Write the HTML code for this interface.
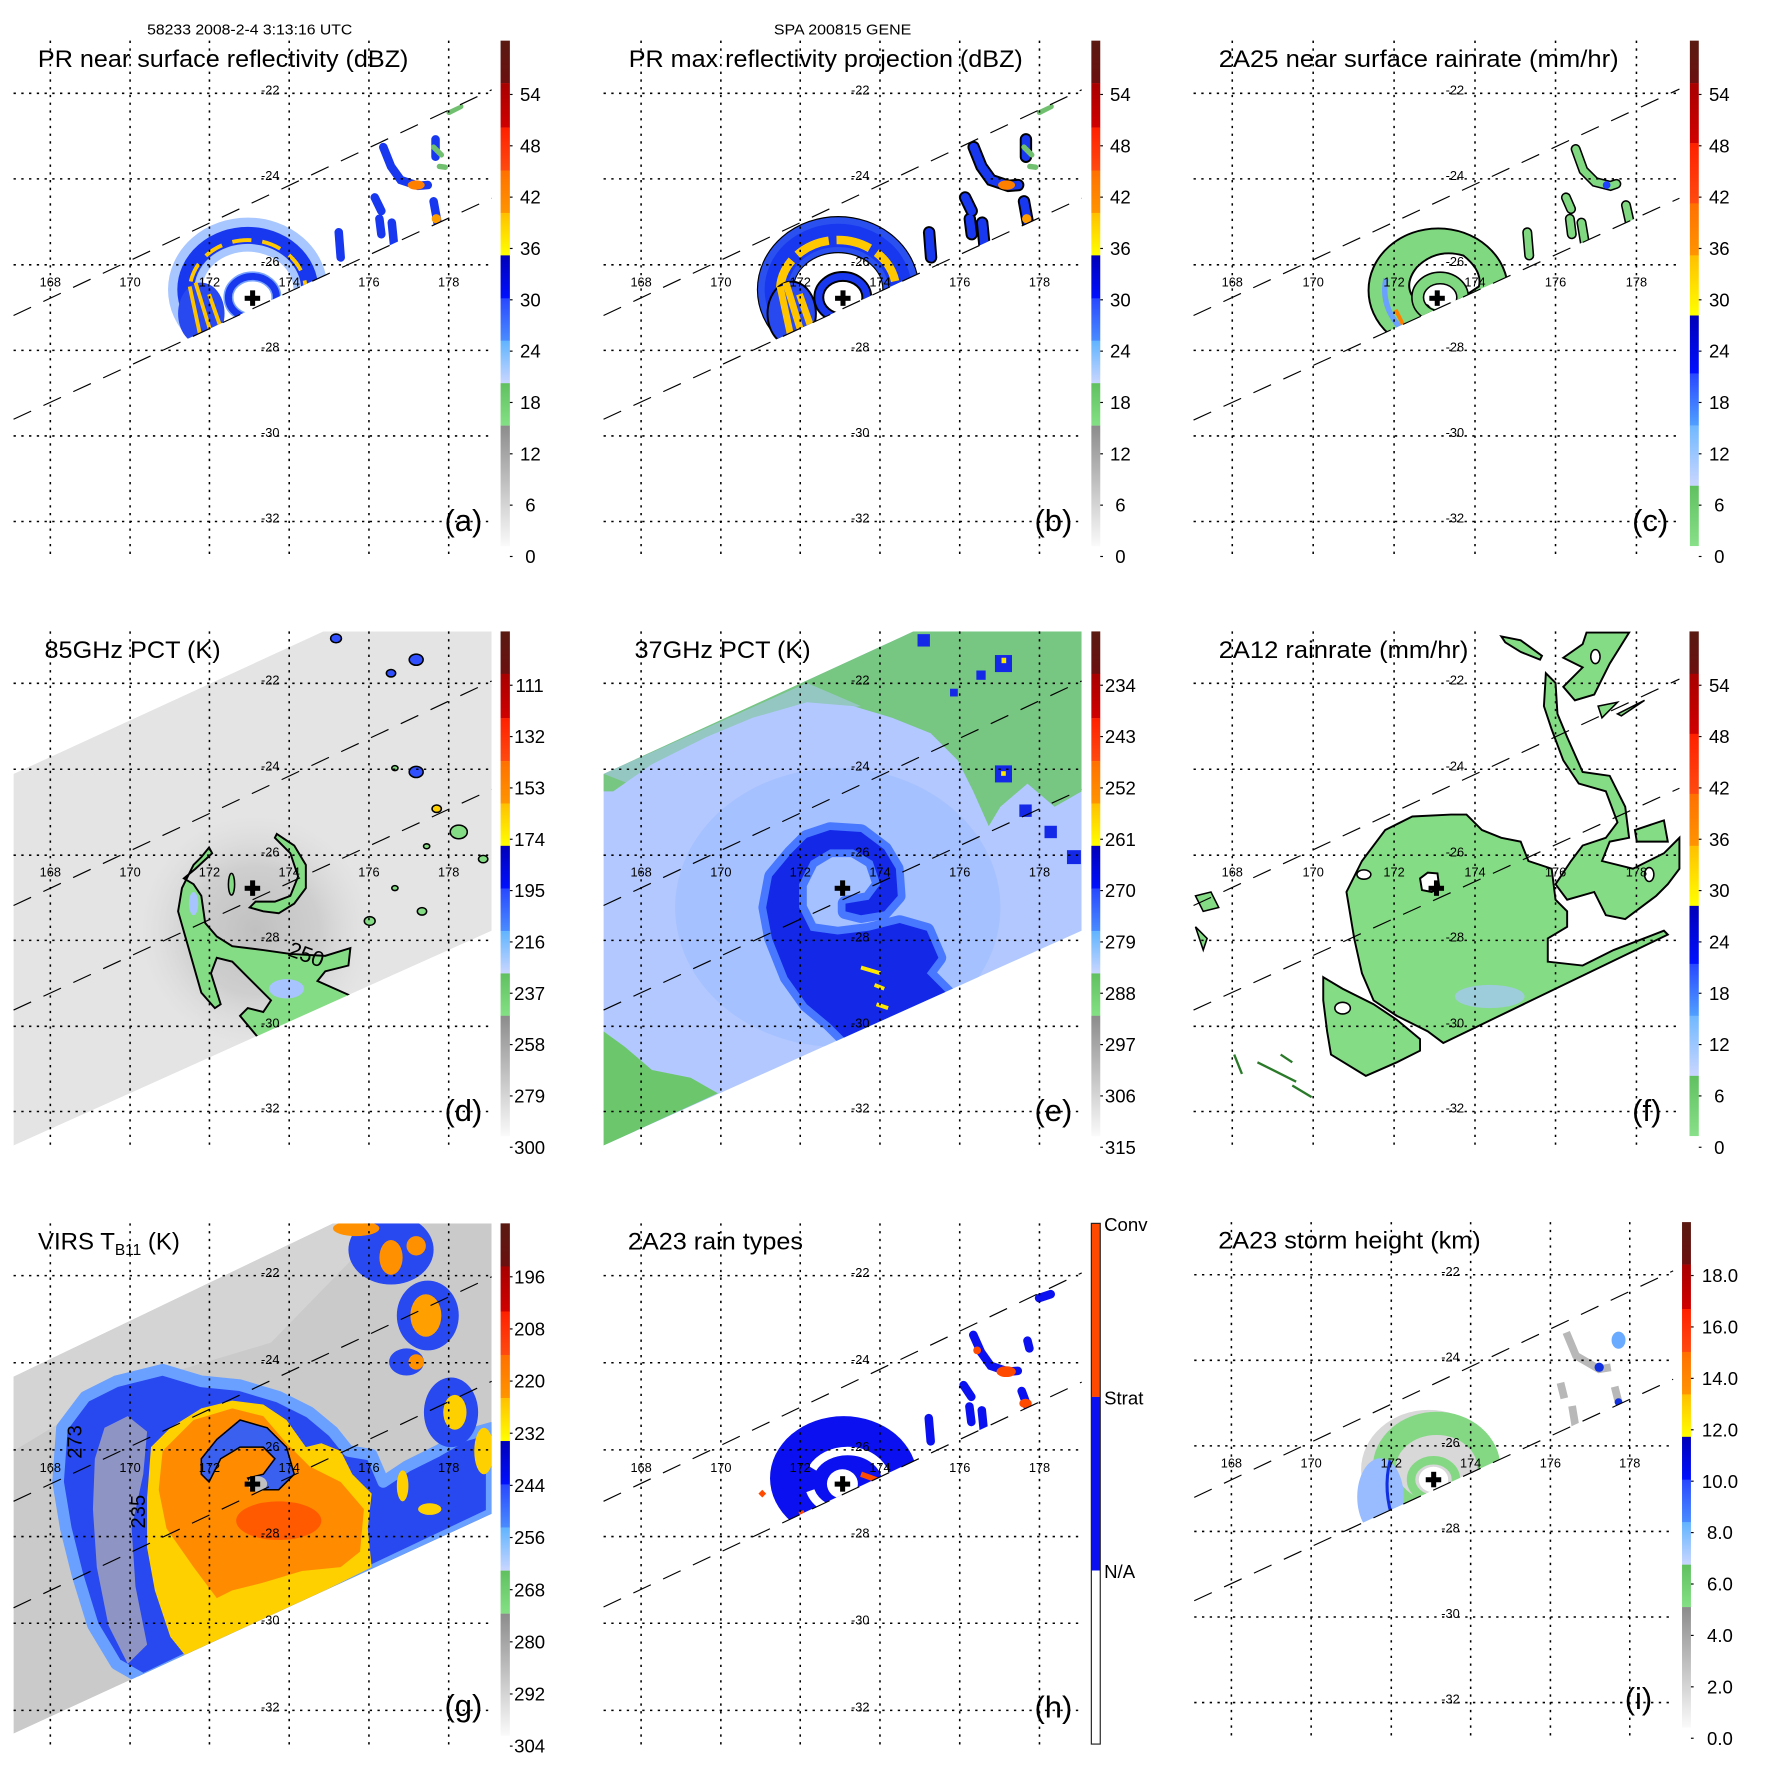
<!DOCTYPE html>
<html><head><meta charset="utf-8"><style>
html,body{margin:0;padding:0;background:#fff;}
svg text{font-family:"Liberation Sans",sans-serif;}
</style></head><body>
<svg id="fig" xmlns="http://www.w3.org/2000/svg" width="1771" height="1771" viewBox="0 0 1771 1771" style="display:block;background:#fff"></svg>
<script>
// ---- data arrays ----
const lonTicks = [168,170,172,174,176,178];
const latTicks = [-22,-24,-26,-28,-30,-32];
const cbLabelsDbz = ['54','48','42','36','30','24','18','12','6','0'];
const cbLabelsRain = ['54','48','42','36','30','24','18','12','6','0'];
const cbLabels85 = ['111','132','153','174','195','216','237','258','279','300'];
const cbLabels37 = ['234','243','252','261','270','279','288','297','306','315'];
const cbLabelsVirs = ['196','208','220','232','244','256','268','280','292','304'];
const cbLabelsHeight = ['18.0','16.0','14.0','12.0','10.0','8.0','6.0','4.0','2.0','0.0'];
const cbLabelsType = ['Conv','Strat','N/A'];

const SC = 1/2.583;
const prSegs = [[0,.084,'#5a1a12','#6a1010'],[.084,.172,'#a80000','#d00000'],[.172,.257,'#ff2000','#ff4a10'],[.257,.341,'#ff7000','#ff9400'],[.341,.425,'#ffc000','#ffff00'],[.425,.51,'#0000b8','#0010ff'],[.51,.594,'#2848ff','#4a8cff'],[.594,.678,'#60b4ff','#cad6ff'],[.678,.762,'#60c060','#84e084'],[.762,1,'#8c8c8c','#fafafa']];
const rainSegs = [[0,.084,'#5a1a12','#6a1010'],[.084,.203,'#a80000','#d00000'],[.203,.322,'#ff2000','#ff4a10'],[.322,.425,'#ff7000','#ff9400'],[.425,.544,'#ffc000','#ffff00'],[.544,.659,'#0000b8','#0010ff'],[.659,.762,'#2848ff','#50a0ff'],[.762,.881,'#70b8ff','#cad6ff'],[.881,1,'#60c060','#88e088']];

const PRsw=[[35,815],[1270,232],[1270,512],[35,1083]];
const panels = [
 {id:'a',ox:0,oy:0,gx:[130,336,541,747,953,1159],gy:[241,462,684,905,1126,1347],px:[35,1270],py:[105,1435],cb:[1293,1317,105,1410],cbx:1370,cby:244,cbd:132.6,labs:cbLabelsDbz,segs:prSegs,title:'PR near surface reflectivity (dBZ)',tx:98,tw:957,ty:173,latx:698,lony:740,let:'(a)',lx:1148,ly:1372,cross:[652,770],sw:PRsw,kind:'a',head:'58233 2008-2-4 3:13:16 UTC',hx:380,hw:530},
 {id:'b',ox:590,oy:0,gx:[132,338,543,749,955,1161],gy:[241,462,684,905,1126,1347],px:[35,1270],py:[105,1435],cb:[1295,1318,105,1410],cbx:1370,cby:244,cbd:132.6,labs:cbLabelsDbz,segs:prSegs,title:'PR max reflectivity projection (dBZ)',tx:100,tw:1018,ty:173,latx:698,lony:740,let:'(b)',lx:1148,ly:1372,cross:[653,770],sw:PRsw,kind:'b',head:'SPA 200815 GENE',hx:475,hw:355},
 {id:'c',ox:1180,oy:0,gx:[135,344,553,762,970,1179],gy:[241,462,684,905,1126,1347],px:[35,1290],py:[105,1435],cb:[1317,1340,105,1410],cbx:1393,cby:244,cbd:132.6,labs:cbLabelsRain,segs:rainSegs,title:'2A25 near surface rainrate (mm/hr)',tx:100,tw:1033,ty:173,latx:710,lony:740,let:'(c)',lx:1168,ly:1372,cross:[664,770],sw:[[35,815],[1290,230],[1290,512],[35,1085]],kind:'c'},
 {id:'d',ox:0,oy:590,gx:[130,336,541,747,953,1159],gy:[241,463,685,905,1127,1347],px:[35,1270],py:[107,1435],cb:[1293,1317,107,1410],cbx:1368,cby:246,cbd:132.6,labs:cbLabels85,segs:prSegs,title:'85GHz PCT (K)',tx:115,tw:455,ty:175,latx:698,lony:740,let:'(d)',lx:1148,ly:1372,cross:[652,770],sw:[[35,815],[1270,235],[1270,515],[35,1085]],kind:'d'},
 {id:'e',ox:590,oy:590,gx:[132,338,543,749,955,1161],gy:[241,463,685,905,1127,1347],px:[35,1270],py:[107,1435],cb:[1295,1318,107,1410],cbx:1370,cby:246,cbd:132.6,labs:cbLabels37,segs:prSegs,title:'37GHz PCT (K)',tx:115,tw:455,ty:175,latx:698,lony:740,let:'(e)',lx:1148,ly:1372,cross:[652,770],sw:[[35,815],[1270,235],[1270,515],[35,1085]],kind:'e'},
 {id:'f',ox:1180,oy:590,gx:[135,344,553,762,970,1179],gy:[241,463,685,905,1127,1347],px:[35,1290],py:[107,1435],cb:[1316,1340,107,1410],cbx:1393,cby:246,cbd:132.6,labs:cbLabelsRain,segs:rainSegs,title:'2A12 rainrate (mm/hr)',tx:100,tw:645,ty:175,latx:710,lony:740,let:'(f)',lx:1168,ly:1372,cross:[662,770],sw:[[35,815],[1290,230],[1290,512],[35,1085]],kind:'f'},
 {id:'g',ox:0,oy:1180,gx:[130,336,541,747,953,1159],gy:[247,472,697,921,1145,1370],px:[35,1270],py:[112,1460],cb:[1293,1317,112,1435],cbx:1368,cby:250,cbd:134.7,labs:cbLabelsVirs,segs:prSegs,title:null,tx:98,ty:180,latx:698,lony:754,let:'(g)',lx:1148,ly:1385,cross:[652,785],sw:[[35,830],[1270,250],[1270,520],[35,1105]],kind:'g'},
 {id:'h',ox:590,oy:1180,gx:[132,338,543,749,955,1161],gy:[247,472,697,921,1145,1370],px:[35,1270],py:[112,1460],cb:[1295,1318,112,1457],cbx:null,labs:cbLabelsType,segs:null,title:'2A23 rain types',tx:98,tw:452,ty:180,latx:698,lony:754,let:'(h)',lx:1148,ly:1388,cross:[652,785],sw:[[35,830],[1270,240],[1270,522],[35,1103]],kind:'h'},
 {id:'i',ox:1171,oy:1171,gx:[156,362,569,774,980,1185],gy:[268,489,710,931,1152,1373],px:[60,1297],py:[132,1460],cb:[1320,1343,132,1437],cbx:1418,cby:270,cbd:132.8,labs:cbLabelsHeight,segs:prSegs,title:'2A23 storm height (km)',tx:122,tw:678,ty:200,latx:722,lony:766,let:'(i)',lx:1172,ly:1390,cross:[678,797],sw:[[60,843],[1297,258],[1297,538],[60,1110]],kind:'i'}
];

function pts(a){return a.map(p=>p.join(',')).join(' ');}
let defs='';
function grad(id,c0,c1){defs+=`<linearGradient id="${id}" x1="0" y1="0" x2="0" y2="1"><stop offset="0" stop-color="${c0}"/><stop offset="1" stop-color="${c1}"/></linearGradient>`;return `url(#${id})`;}

function prStorm(k){
  let s='';
  if(k==='a'||k==='b'){
    const ol = k==='b';
    if(ol) s+=`<ellipse cx="640" cy="748" rx="162" ry="142" fill="none" stroke="#000" stroke-width="96"/>`;
    s+=`<ellipse cx="640" cy="748" rx="162" ry="142" fill="none" stroke="${ol?'#2a50f0':'#a8c6ff'}" stroke-width="${ol?90:88}"/>`;
    s+=`<ellipse cx="640" cy="748" rx="160" ry="140" fill="none" stroke="#1838f0" stroke-width="${ol?60:44}"/>`;
    s+=`<ellipse cx="640" cy="752" rx="150" ry="132" fill="none" stroke="#ffc800" stroke-width="${ol?22:10}" stroke-dasharray="${ol?'90 20':'50 28'}"/>`;
    if(ol) s+=`<ellipse cx="520" cy="810" rx="65" ry="85" fill="#000"/>`;
    s+=`<ellipse cx="520" cy="810" rx="60" ry="80" fill="#2848f0"/>`;
    s+=`<path d="M490 740 L520 880 M540 760 L575 860 M505 730 L548 870" stroke="#ffc400" stroke-width="${ol?18:10}" fill="none"/>`;
    s+=`<ellipse cx="652" cy="768" rx="62" ry="54" fill="none" stroke="${ol?'#000':'#7aa4ff'}" stroke-width="${ol?28:26}"/>`;
    s+=`<ellipse cx="652" cy="768" rx="62" ry="54" fill="none" stroke="#1838f0" stroke-width="18"/>`;
    s+=`<ellipse cx="695" cy="800" rx="28" ry="8" fill="#ff9000"/>`;
    s+=`<g fill="none" stroke-linecap="round">`;
    if(ol) s+=`<path d="M990 380 L1010 430 L1035 465 L1080 480 L1105 478 M1120 520 L1130 575 M968 510 L985 545 M980 565 L985 605 M1012 575 L1018 635 M875 600 L880 665 M1125 360 L1125 405" stroke="#000" stroke-width="32"/>`;
    s+=`<path d="M990 380 L1010 430 L1035 465 L1080 480 L1105 478 M1120 520 L1130 575 M968 510 L985 545 M980 565 L985 605 M1012 575 L1018 635 M875 600 L880 665 M1125 360 L1125 405" stroke="#1838f0" stroke-width="22"/>`;
    s+=`<ellipse cx="1075" cy="478" rx="22" ry="12" fill="#ff8000"/><ellipse cx="1127" cy="565" rx="12" ry="12" fill="#ff9c00"/>`;
    s+=`<path d="M1135 430 L1150 432 M1120 380 L1140 400 M1160 290 L1190 275" stroke="#70c070" stroke-width="14"/></g>`;
  } else if(k==='c'){
    s+=`<ellipse cx="655" cy="750" rx="180" ry="160" fill="#80d880" stroke="#000" stroke-width="5"/>`;
    s+=`<path d="M600 690 Q650 640 720 660 Q770 700 760 740 L700 780 Q640 800 600 780 Q560 740 600 690Z" fill="#fff" stroke="#000" stroke-width="5"/>`;
    s+=`<ellipse cx="660" cy="768" rx="58" ry="50" fill="none" stroke="#000" stroke-width="34"/>`;
    s+=`<ellipse cx="660" cy="768" rx="58" ry="50" fill="none" stroke="#80d880" stroke-width="26"/>`;
    s+=`<ellipse cx="660" cy="768" rx="38" ry="32" fill="#fff"/>`;
    s+=`<path d="M520 720 Q505 790 560 850" stroke="#6aa0ff" stroke-width="14" fill="none"/><path d="M545 800 L565 840" stroke="#ff8000" stroke-width="10"/>`;
    s+=`<path d="M1010 385 L1030 440 L1060 470 L1100 480 L1115 475 M1140 530 L1150 575 M985 510 L998 540 M995 565 L1000 605 M1025 575 L1035 635 M885 600 L890 660" stroke="#000" stroke-width="26" fill="none" stroke-linecap="round"/>`;
    s+=`<path d="M1010 385 L1030 440 L1060 470 L1100 480 L1115 475 M1140 530 L1150 575 M985 510 L998 540 M995 565 L1000 605 M1025 575 L1035 635 M885 600 L890 660" stroke="#80d880" stroke-width="18" fill="none" stroke-linecap="round"/>`;
    s+=`<circle cx="1090" cy="478" r="10" fill="#2040ff"/>`;
  } else if(k==='h'){
    s+=`<ellipse cx="655" cy="755" rx="190" ry="160" fill="#0a10f0"/>`;
    s+=`<ellipse cx="665" cy="765" rx="100" ry="80" fill="none" stroke="#fff" stroke-width="22" stroke-dasharray="260 60"/>`;
    s+=`<ellipse cx="652" cy="770" rx="40" ry="38" fill="#fff"/>`;
    s+=`<path d="M545 840 L555 870 M700 745 L770 770 M440 790 L450 800" stroke="#ff4a00" stroke-width="14"/>`;
    s+=`<path d="M990 385 L1010 430 L1035 465 L1080 480 L1105 478 M1115 530 L1130 570 M965 515 L985 545 M980 570 L985 610 M1012 580 L1018 640 M875 600 L880 660 M1130 400 L1135 420 M1160 290 L1190 280" stroke="#0a10f0" stroke-width="22" fill="none" stroke-linecap="round"/>`;
    s+=`<ellipse cx="1075" cy="480" rx="25" ry="14" fill="#ff4a00"/><ellipse cx="1125" cy="562" rx="16" ry="12" fill="#ff4a00"/><circle cx="1000" cy="425" r="10" fill="#ff4a00"/>`;
  } else if(k==='i'){
    s+=`<ellipse cx="640" cy="745" rx="175" ry="155" fill="#c8c8c8" opacity=".7"/>`;
    s+=`<ellipse cx="660" cy="740" rx="135" ry="115" fill="none" stroke="#84d884" stroke-width="60"/>`;
    s+=`<ellipse cx="515" cy="815" rx="60" ry="100" fill="#98bcff"/><path d="M540 720 Q520 800 550 880" stroke="#1030e0" stroke-width="8" fill="none"/>`;
    s+=`<ellipse cx="652" cy="770" rx="58" ry="50" fill="none" stroke="#84d884" stroke-width="22"/><ellipse cx="652" cy="770" rx="38" ry="33" fill="#fff"/>`;
    s+=`<path d="M995 390 L1020 450 L1080 485 L1110 480 M1120 530 L1130 570 M980 520 L990 560 M1010 580 L1020 640" stroke="#b8b8b8" stroke-width="20" fill="none"/>`;
    s+=`<ellipse cx="1130" cy="410" rx="18" ry="22" fill="#6aaaff"/><circle cx="1080" cy="480" r="12" fill="#1030e0"/><circle cx="1130" cy="570" r="10" fill="#1030e0"/>`;
  }
  return s;
}

function imagery(p){
  let s='';
  const cid='clip-'+p.id;
  defs+=`<clipPath id="${cid}"><polygon points="${pts(p.sw)}"/></clipPath>`;
  const dx=p.cross[0]-652, dy=p.cross[1]-770;
  if(['a','b','c','h','i'].includes(p.kind)){
    s+=`<g clip-path="url(#${cid})"><g transform="translate(${dx},${dy})">${prStorm(p.kind)}</g></g>`;
  } else if(p.kind==='d'){
    const sw=[[35,475],[835,107],[1270,107],[1270,880],[35,1435]];
    defs+=`<clipPath id="tmi-d"><polygon points="${pts(sw)}"/></clipPath><radialGradient id="halo-d"><stop offset="0" stop-color="#a8a8a8" stop-opacity=".6"/><stop offset=".55" stop-color="#b4b4b4" stop-opacity=".45"/><stop offset="1" stop-color="#d0d0d0" stop-opacity="0"/></radialGradient>`;
    s+=`<g clip-path="url(#tmi-d)"><polygon points="${pts(sw)}" fill="#e4e4e4"/>`;
    s+=`<ellipse cx="660" cy="880" rx="300" ry="300" fill="url(#halo-d)"/>`;
    const band=[[520,690],[540,665],[548,680],[505,720],[475,745],[500,760],[520,790],[530,860],[560,895],[600,920],[680,930],[750,940],[840,945],[905,925],[900,970],[840,985],[820,1010],[910,1050],[860,1075],[790,1110],[750,1140],[700,1160],[670,1160],[620,1100],[640,1080],[680,1090],[700,1060],[640,1000],[600,960],[560,950],[545,990],[570,1070],[555,1080],[520,1040],[480,900],[460,830],[470,770],[500,710]];
    const hook=[[715,630],[760,660],[790,710],[790,770],[760,810],[720,835],[680,830],[645,820],[660,805],[710,805],[750,790],[770,740],[750,680],[710,640]];
    s+=`<polygon points="${pts(band)}" fill="#84dc84" stroke="#000" stroke-width="5"/>`;
    s+=`<polygon points="${pts(hook)}" fill="#84dc84" stroke="#000" stroke-width="5"/>`;
    s+=`<ellipse cx="740" cy="1030" rx="45" ry="25" fill="#a8c4ff"/><ellipse cx="500" cy="810" rx="12" ry="30" fill="#a8c4ff"/>`;
    s+=`<ellipse cx="598" cy="760" rx="8" ry="28" fill="#84dc84" stroke="#000" stroke-width="4"/>`;
    s+=`<text x="745" y="960" font-size="56" transform="rotate(20 790 940)">250</text>`;
    [[868,125,14,'#3050ff'],[1075,180,18,'#3050ff'],[1010,215,12,'#3050ff'],[1075,470,18,'#3050ff'],[1128,565,12,'#ffd000'],[1185,625,22,'#84dc84'],[1248,695,12,'#84dc84'],[1020,460,8,'#84dc84'],[1090,830,12,'#84dc84'],[955,855,14,'#84dc84'],[1020,770,8,'#84dc84'],[1102,662,8,'#84dc84']].forEach(c=>{
      s+=`<ellipse cx="${c[0]}" cy="${c[1]}" rx="${c[2]}" ry="${c[2]*0.8}" fill="${c[3]}" stroke="#000" stroke-width="4"/>`;});
    s+=`</g>`;
  } else if(p.kind==='e'){
    const sw=[[35,475],[835,107],[1270,107],[1270,880],[35,1435]];
    defs+=`<clipPath id="tmi-e"><polygon points="${pts(sw)}"/></clipPath>`;
    s+=`<g clip-path="url(#tmi-e)"><polygon points="${pts(sw)}" fill="#b2c8ff"/>`;
    s+=`<ellipse cx="640" cy="820" rx="420" ry="360" fill="#9cbcff" opacity=".6"/>`;
    const g1=[[35,475],[835,107],[1270,107],[1270,520],[1200,560],[1130,500],[1060,560],[1030,610],[990,520],[950,440],[880,370],[780,330],[680,300],[560,290],[420,330],[300,380],[160,450],[60,520],[35,520]];
    const g2=[[35,1140],[35,1435],[330,1300],[260,1260],[160,1240],[90,1180]];
    s+=`<polygon points="${pts(g1)}" fill="#6cc66c" opacity=".85"/>`;
    s+=`<polygon points="${pts([[35,475],[560,240],[700,300],[500,330],[300,400],[100,500]])}" fill="#b2c8ff" opacity=".5"/>`;
    s+=`<polygon points="${pts(g2)}" fill="#6cc66c"/>`;
    const blue=[[470,740],[520,680],[560,640],[620,620],[700,625],[760,670],[790,720],[795,790],[760,830],[700,840],[660,830],[660,810],[720,800],[750,760],[730,700],[680,670],[620,670],[570,700],[540,760],[540,820],[570,880],[640,890],[720,880],[800,860],[870,880],[900,950],[870,990],[930,1050],[770,1120],[670,1170],[620,1120],[560,1070],[510,1000],[470,900],[455,820]];
    s+=`<polygon points="${pts(blue)}" fill="#4878ff" stroke="#4878ff" stroke-width="40" stroke-linejoin="round"/>`;
    s+=`<polygon points="${pts(blue)}" fill="#1428e8"/>`;
    s+=`<path d="M700 975 L750 990 M735 1020 L760 1030 M740 1070 L770 1080" stroke="#ffe800" stroke-width="10"/>`;
    [[1068,475,22],[1125,570,16],[1190,625,16],[1250,690,18],[862,130,16],[1068,190,22],[1010,220,12],[940,265,10]].forEach(c=>{s+=`<rect x="${c[0]-c[2]}" y="${c[1]-c[2]}" width="${2*c[2]}" height="${2*c[2]}" fill="#1428e8"/>`;});
    s+=`<rect x="1062" y="468" width="12" height="12" fill="#ffe800"/><rect x="1063" y="175" width="12" height="14" fill="#ffe800"/></g>`;
  } else if(p.kind==='f'){
    const blob=[[430,780],[470,700],[530,620],[600,585],[700,580],[740,580],[780,620],[830,640],[880,650],[900,700],[960,720],[970,800],[1000,830],[1000,870],[950,900],[950,960],[1040,970],[1120,930],[1250,880],[1260,890],[680,1170],[640,1140],[560,1100],[500,1060],[470,990],[450,900],[440,840]];
    const sw2=[[370,1000],[420,1030],[500,1070],[560,1110],[620,1160],[620,1190],[560,1220],[480,1255],[390,1200],[380,1140],[370,1060]];
    const ne=[[945,215],[970,240],[975,320],[1000,380],[1040,470],[1110,480],[1150,560],[1160,640],[1110,650],[1090,700],[1170,720],[1250,680],[1290,640],[1290,720],[1260,760],[1230,790],[1150,850],[1100,840],[1070,780],[1000,800],[970,760],[1010,700],[1040,660],[1100,640],[1130,600],[1100,520],[1030,500],[990,440],[960,360],[940,300]];
    const top1=[[830,120],[880,130],[935,170],[930,180],[880,160],[840,135]];
    const top2=[[990,175],[1040,140],[1050,110],[1100,110],[1160,110],[1110,190],[1070,270],[1020,285],[990,250],[1040,200]];
    const r1=[[1175,620],[1250,595],[1260,650],[1180,650]];
    [blob,sw2,ne,top1,top2,r1].forEach((pg,i)=>{s+=`<polygon points="${pts(pg)}" fill="#84dc84" stroke="#000" stroke-width="5"/>`;});
    s+=`<polygon points="${pts([[1080,300],[1130,290],[1090,330]])}" fill="#84dc84" stroke="#000" stroke-width="4"/><polygon points="${pts([[1130,320],[1200,285],[1140,325]])}" fill="#84dc84" stroke="#000" stroke-width="4"/>`;
    s+=`<polygon points="${pts([[620,745],[640,730],[665,732],[670,770],[650,780],[625,775]])}" fill="#fff" stroke="#000" stroke-width="5"/>`;
    s+=`<ellipse cx="420" cy="1080" rx="20" ry="15" fill="#fff" stroke="#000" stroke-width="4"/><ellipse cx="475" cy="735" rx="18" ry="12" fill="#fff" stroke="#000" stroke-width="4"/><ellipse cx="1212" cy="735" rx="12" ry="18" fill="#fff" stroke="#000" stroke-width="4"/><ellipse cx="1073" cy="172" rx="12" ry="18" fill="#fff" stroke="#000" stroke-width="4"/>`;
    s+=`<polygon points="${pts([[40,790],[80,780],[100,820],[60,830]])}" fill="#84dc84" stroke="#000" stroke-width="4"/><polygon points="${pts([[40,870],[70,900],[60,930]])}" fill="#84dc84" stroke="#000" stroke-width="4"/>`;
    s+=`<path d="M140 1200 L160 1250 M200 1220 L300 1270 M260 1200 L290 1220 M290 1280 L340 1310" stroke="#2a7a2a" stroke-width="6"/>`;
    s+=`<ellipse cx="800" cy="1050" rx="90" ry="30" fill="#a8c4ff" opacity=".7"/>`;
  } else if(p.kind==='g'){
    const sw=[[35,508],[860,112],[1270,112],[1270,862],[35,1430]];
    defs+=`<clipPath id="virs-g"><polygon points="${pts(sw)}"/></clipPath>`;
    s+=`<g clip-path="url(#virs-g)"><polygon points="${pts(sw)}" fill="#cacaca"/>`;
    s+=`<polygon points="${pts([[35,508],[860,112],[1000,112],[700,420],[300,540],[35,700]])}" fill="#d6d6d6" opacity=".8"/>`;
    const outer=[[160,640],[220,560],[300,520],[420,490],[520,520],[620,530],[720,560],[800,600],[860,650],[900,700],[960,710],[990,780],[1050,740],[1130,700],[1200,660],[1270,640],[1270,862],[1000,990],[600,1180],[370,1290],[300,1250],[240,1150],[200,1020],[170,900],[150,780]];
    s+=`<polygon points="${pts(outer)}" fill="#2848f0" stroke="#6aa0ff" stroke-width="30" stroke-linejoin="round"/>`;
    const gap=[[270,640],[330,610],[380,650],[370,760],[340,900],[350,1050],[380,1200],[330,1250],[280,1150],[250,1000],[240,850],[245,720]];
    s+=`<polygon points="${pts(gap)}" fill="#a8a8b8" opacity=".8"/>`;
    const yel=[[390,690],[440,640],[520,590],[600,570],[680,580],[740,620],[790,690],[830,680],[880,700],[910,760],[960,810],[950,900],[960,1000],[600,1180],[480,1230],[440,1180],[400,1060],[380,950],[380,820]];
    s+=`<polygon points="${pts(yel)}" fill="#ffd000"/>`;
    const org=[[420,700],[500,620],[600,590],[680,610],[740,680],[800,740],[880,780],[940,850],[930,960],[880,1000],[780,1010],[680,1040],[600,1060],[560,1080],[500,1000],[430,900],[410,800]];
    s+=`<polygon points="${pts(org)}" fill="#ff8c00"/>`;
    s+=`<ellipse cx="720" cy="880" rx="110" ry="50" fill="#ff5a00"/>`;
    const curl=[[520,720],[560,670],[620,620],[690,640],[740,690],[760,760],[720,800],[660,800],[640,770],[680,760],[710,720],[680,690],[620,690],[570,720],[540,780],[520,760]];
    s+=`<polygon points="${pts(curl)}" fill="#3a60f0" stroke="#000" stroke-width="4"/>`;
    s+=`<ellipse cx="665" cy="785" rx="25" ry="20" fill="#c0c0c0"/>`;
    [[1105,350,80,90,'#2848f0'],[1050,470,45,35,'#2848f0'],[1165,600,70,90,'#2848f0'],[1010,180,110,90,'#2848f0'],[1250,700,25,60,'#ffd000'],[1100,350,40,55,'#ffa000'],[1175,600,30,45,'#ffd000'],[1010,200,30,45,'#ff9000'],[1075,170,25,25,'#ff9000'],[920,125,60,20,'#ff9000'],[1075,470,20,20,'#ff9000'],[1110,850,30,15,'#ffd000'],[1040,790,15,40,'#ffd000']].forEach(c=>{
      s+=`<ellipse cx="${c[0]}" cy="${c[1]}" rx="${c[2]}" ry="${c[3]}" fill="${c[4]}"/>`;});
    s+=`<text x="170" y="700" font-size="52" transform="rotate(-90 200 690)">273</text><text x="335" y="880" font-size="52" transform="rotate(-90 365 870)">235</text></g>`;
  }
  return s;
}

const svg=document.getElementById('fig');
let body='';
panels.forEach(p=>{
  let s=`<g transform="translate(${p.ox},${p.oy}) scale(${SC})">`;
  s+=imagery(p);
  const sw=p.sw;
  s+=`<g stroke="#000" stroke-width="3" stroke-dasharray="50 35" fill="none"><line x1="${sw[0][0]}" y1="${sw[0][1]}" x2="${sw[1][0]}" y2="${sw[1][1]}"/><line x1="${sw[3][0]}" y1="${sw[3][1]}" x2="${sw[2][0]}" y2="${sw[2][1]}"/></g>`;
  s+=`<g stroke="#000" stroke-width="4" stroke-dasharray="6 14">`;
  lonTicks.forEach((lon,i)=>{s+=`<line x1="${p.gx[i]}" y1="${p.py[0]}" x2="${p.gx[i]}" y2="${p.py[1]}"/>`;});
  latTicks.forEach((lat,i)=>{s+=`<line x1="${p.px[0]}" y1="${p.gy[i]}" x2="${p.px[1]}" y2="${p.gy[i]}"/>`;});
  s+=`</g><g font-size="33" text-anchor="middle" fill="#000">`;
  lonTicks.forEach((lon,i)=>{s+=`<text x="${p.gx[i]}" y="${p.lony}">${lon}</text>`;});
  latTicks.forEach((lat,i)=>{s+=`<text x="${p.latx}" y="${p.gy[i]+3}">${lat}</text>`;});
  s+=`</g>`;
  const [cx,cy]=p.cross;
  s+=`<g fill="#000"><rect x="${cx-20}" y="${cy-6}" width="40" height="13"/><rect x="${cx-6}" y="${cy-20}" width="13" height="40"/></g>`;
  const [x0,x1,y0,y1]=p.cb; const L=y1-y0;
  s+=`<g>`;
  if(p.segs){
    p.segs.forEach((sg,i)=>{const f=grad(`g-${p.id}-${i}`,sg[2],sg[3]);s+=`<rect x="${x0}" y="${y0+sg[0]*L}" width="${x1-x0}" height="${(sg[1]-sg[0])*L+0.5}" fill="${f}"/>`;});
    p.labs.forEach((t,i)=>{const y=p.cby+i*p.cbd;s+=`<line x1="${x1}" y1="${y}" x2="${x1+7}" y2="${y}" stroke="#000" stroke-width="3"/><text x="${p.cbx}" y="${y+17}" font-size="48" text-anchor="middle">${t}</text>`;});
  } else {
    const h3=L/3;
    s+=`<rect x="${x0}" y="${y0}" width="${x1-x0}" height="${h3}" fill="#ff4800"/><rect x="${x0}" y="${y0+h3}" width="${x1-x0}" height="${h3}" fill="#0a10f0"/><rect x="${x0}" y="${y0+2*h3}" width="${x1-x0}" height="${h3}" fill="#fff"/><rect x="${x0}" y="${y0}" width="${x1-x0}" height="${L}" fill="none" stroke="#222" stroke-width="3"/>`;
    p.labs.forEach((t,i)=>{s+=`<text x="${x1+10}" y="${y0+i*h3+20}" font-size="48">${t}</text>`;});
  }
  s+=`</g>`;
  if(p.title) s+=`<text x="${p.tx}" y="${p.ty}" font-size="62" textLength="${p.tw}" lengthAdjust="spacingAndGlyphs">${p.title}</text>`;
  else s+=`<text x="${p.tx}" y="${p.ty}" font-size="62">VIRS T<tspan font-size="40" dy="14">B11</tspan><tspan dy="-14"> (K)</tspan></text>`;
  if(p.head) s+=`<text x="${p.hx}" y="89" font-size="38" textLength="${p.hw}" lengthAdjust="spacingAndGlyphs">${p.head}</text>`;
  s+=`<text x="${p.lx}" y="${p.ly}" font-size="80">${p.let}</text>`;
  s+='</g>';
  body+=s;
});
svg.innerHTML=`<defs>${defs}</defs>`+body;
</script>
</body></html>
